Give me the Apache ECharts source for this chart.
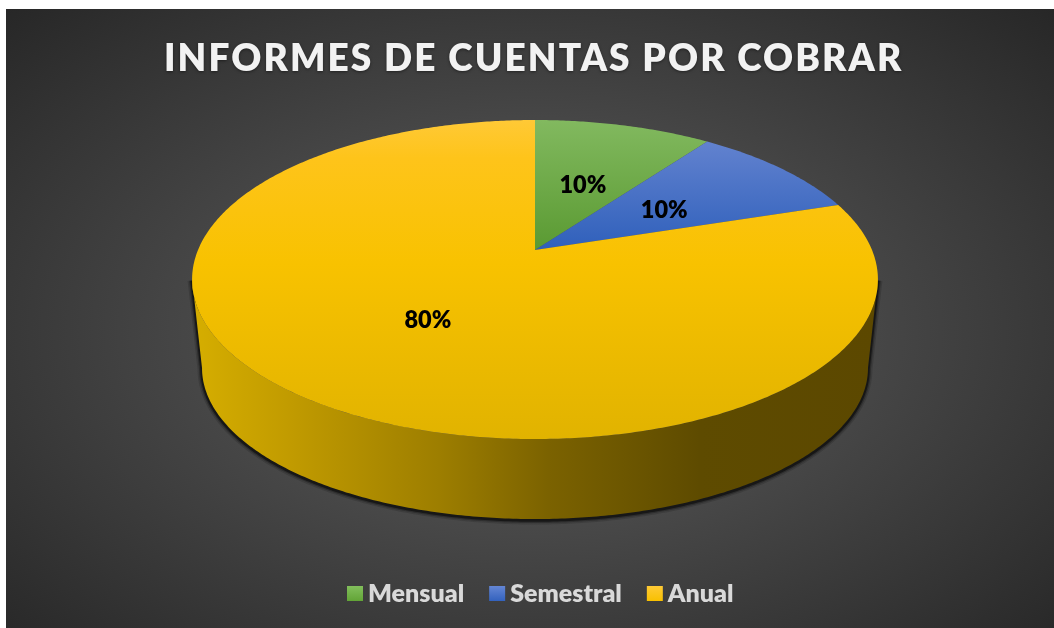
<!DOCTYPE html>
<html>
<head>
<meta charset="utf-8">
<title>Informes de cuentas por cobrar</title>
<script src="https://cdn.jsdelivr.net/npm/echarts@6/dist/echarts.min.js"></script>
<style>
  html, body { margin: 0; background: #fff; }
  #chart {
    width: 1054px;
    height: 628px;
    background: #fff radial-gradient(ellipse farthest-corner at 50% 52%, #585858 0%, #4a4a4a 40%, #272727 100%) 6px 9px / 1048px 619px no-repeat;
  }
</style>
</head>
<body>
<div id="chart"></div>
<script>
const titleText = "INFORMES DE CUENTAS POR COBRAR";
const categories = ["Mensual", "Semestral", "Anual"];
const values = [10, 10, 80];

// top colour -> bottom colour of each slice
const topColors = [
  [[0, "#82b95f"], [1, "#5a9a32"]],
  [[0, "#6282cf"], [1, "#2f60bb"]],
  [[0, "#ffc936"], [0.12, "#fec41a"], [0.45, "#f8c200"], [1, "#e1b300"]],
];
const swatchColors = [
  [[0, "#82bf5c"], [1, "#62a436"]],
  [[0, "#6486d4"], [1, "#3362be"]],
  [[0, "#ffca36"], [1, "#f8c000"]],
];
const wallColors = [[0, "#d6ae00"], [0.15, "#c09a00"], [0.36, "#9d7e00"], [0.52, "#7b6200"], [0.74, "#5e4b00"], [1, "#5c4800"]];

const total = values.reduce((a, b) => a + b, 0);

// the picture is a tilted pie in perspective, so the apex is not the ellipse centre
const cx = 535, apexY = 250, kx = 337, ky = 107.8, persp = -0.185;
const topCy = 279.5, topRy = 159.5;
const botCy = 368, botRy = 151, botRxScale = 0.971;
const frontFrom = Math.acos(persp), frontTo = 2 * Math.PI - frontFrom;

function project(angle, r) {
  const u = r * Math.sin(angle), v = -r * Math.cos(angle);
  const d = 1 + persp * v;
  return [cx + kx * u / d, (ky * v + apexY) / d];
}
function projectBottom(angle) {
  const p = project(angle, 1);
  return [cx + (p[0] - cx) * botRxScale, botCy + (p[1] - topCy) * botRy / topRy];
}
function arc(a0, a1, fn) {
  const out = [], n = Math.max(2, Math.ceil(Math.abs(a1 - a0) / 0.01));
  for (let i = 0; i <= n; i++) out.push(fn(a0 + (a1 - a0) * i / n));
  return out;
}
function linear(stops, horizontal) {
  return {
    type: "linear", x: 0, y: 0, x2: horizontal ? 1 : 0, y2: horizontal ? 0 : 1,
    colorStops: stops.map(s => ({ offset: s[0], color: s[1] })),
  };
}

function renderSlice(idx) {
  return function (params, api) {
    const before = values.slice(0, idx).reduce((a, b) => a + b, 0);
    const value = api.value(0);
    const a0 = before / total * 2 * Math.PI;
    const a1 = (before + value) / total * 2 * Math.PI;
    const children = [];

    // side wall, only the part that faces the viewer
    const w0 = Math.max(a0, frontFrom), w1 = Math.min(a1, frontTo);
    if (w1 > w0) {
      const pts = arc(w0, w1, a => project(a, 1)).concat(arc(w1, w0, projectBottom));
      // soft dark rim under the wall, runs up both sides to the top edge
      const rim = [project(w1, 1)].concat(arc(w1, w0, projectBottom), [project(w0, 1)]);
      [[9, 0.14], [6, 0.25], [3.5, 0.5]].forEach(s => {
        children.push({
          type: "polyline",
          shape: { points: rim },
          y: 1,
          style: { fill: "none", stroke: "rgba(0,0,0," + s[1] + ")", lineWidth: s[0] },
        });
      });
      children.push({
        type: "polygon",
        shape: { points: pts },
        style: { fill: linear(wallColors, true) },
      });
    }

    const topPts = [project(0, 0)].concat(arc(a0, a1, a => project(a, 1)));
    children.push({
      type: "polygon",
      shape: { points: topPts },
      style: { fill: linear(topColors[idx]) },
    });

    const lp = project((a0 + a1) / 2, 0.5);
    children.push({
      type: "text",
      x: lp[0], y: lp[1] + 3,
      style: {
        text: Math.round(value / total * 100) + "%",
        fill: "#000",
        font: "800 23.5px Lato",
        align: "center", verticalAlign: "middle",
      },
    });
    return { type: "group", children: children };
  };
}

// zrender has no letter spacing option, the title is tracked out on the context
const nativeFill = CanvasRenderingContext2D.prototype.fillText;
CanvasRenderingContext2D.prototype.fillText = function (t, x, y, w) {
  this.letterSpacing = t === titleText ? "2.1px" : "0px";
  return w === undefined ? nativeFill.call(this, t, x, y) : nativeFill.call(this, t, x, y, w);
};

const chart = echarts.init(document.getElementById("chart"));
chart.setOption({
  animation: false,
  title: {
    text: titleText,
    left: 159,
    top: 36,
    textStyle: {
      color: "#f2f2f2",
      fontFamily: "Lato",
      fontWeight: 800,
      fontSize: 37,
      textShadowColor: "rgba(0,0,0,0.45)",
      textShadowBlur: 3,
      textShadowOffsetY: 1,
    },
  },
  legend: {
    left: 342,
    top: 576,
    icon: "rect",
    itemWidth: 16,
    itemHeight: 15,
    itemGap: 25,
    textStyle: { color: "#d9d9d9", fontFamily: "Lato", fontWeight: 800, fontSize: 25 },
    data: categories.map((name, i) => ({ name: name, itemStyle: { color: linear(swatchColors[i]) } })),
  },
  series: categories.map((name, i) => ({
    name: name,
    type: "custom",
    coordinateSystem: "none",
    silent: true,
    renderItem: renderSlice(i),
    data: [[values[i]]],
  })),
});
</script>
</body>
</html>
